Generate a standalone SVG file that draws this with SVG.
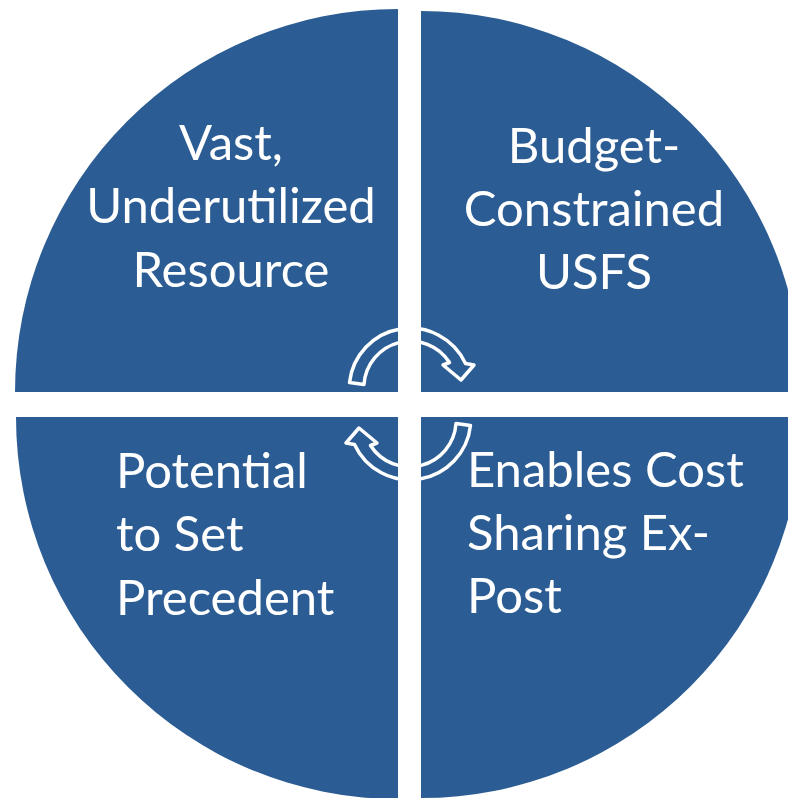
<svg xmlns="http://www.w3.org/2000/svg" width="788" height="798" viewBox="0 0 788 798">
  <style>
    .q { fill: #2B5C93; }
    .t { font-family: Lato, "Liberation Sans", sans-serif; font-size: 49px; fill: #FFFFFF; }
    .c { text-anchor: middle; }
    .arrow { fill: none; stroke: #FFFFFF; stroke-width: 3.5; stroke-linejoin: round; }
  </style>
  <rect width="788" height="798" fill="#FFFFFF"/>
  <g id="node-vast">
    <path class="q" d="M398,392 L15,392 A383,383 0 0 1 398,9 Z"/>
    <text class="t c" x="231" y="160">Vast,</text>
    <text class="t c" x="231" y="223">Underutilized</text>
    <text class="t c" x="231" y="287">Resource</text>
  </g>
  <g id="node-budget">
    <path class="q" d="M421,392 L421,11 A381,381 0 0 1 802,392 Z"/>
    <text class="t c" x="594" y="163">Budget-</text>
    <text class="t c" x="594" y="226">Constrained</text>
    <text class="t c" x="594" y="289">USFS</text>
  </g>
  <g id="node-potential">
    <path class="q" d="M398,417 L398,799 A382,382 0 0 1 16,417 Z"/>
    <text class="t" x="116" y="488">Potential</text>
    <text class="t" x="116" y="551">to Set</text>
    <text class="t" x="116" y="615">Precedent</text>
  </g>
  <g id="node-enables">
    <path class="q" d="M421,417 L802,417 A381,381 0 0 1 421,798 Z"/>
    <text class="t" x="467" y="487">Enables Cost</text>
    <text class="t" x="467" y="550">Sharing Ex-</text>
    <text class="t" x="467" y="613">Post</text>
  </g>
  <g id="connectors">
    <path id="arrow-top" class="arrow" d="M349.5,382.6 A61,61 0 0 1 465.5,363.5 L474,365 L461,380 L443,365 L449.5,362.5 A46.5,46.5 0 0 0 364,384.5 Z"/>
    <path id="arrow-bottom" class="arrow" transform="rotate(180 410 404)" d="M349.5,382.6 A61,61 0 0 1 465.5,363.5 L474,365 L461,380 L443,365 L449.5,362.5 A46.5,46.5 0 0 0 364,384.5 Z"/>
  </g>
</svg>
